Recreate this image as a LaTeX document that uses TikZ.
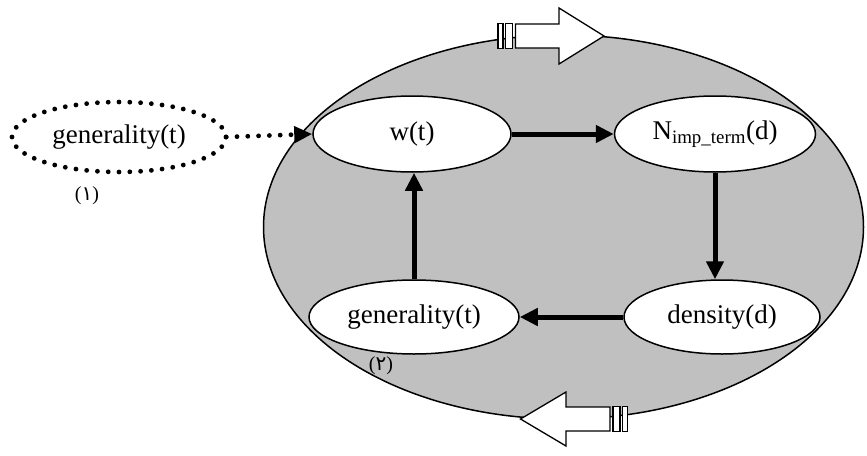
\documentclass[tikz,border=0pt]{standalone}
\usepackage{fontspec}
\setmainfont{Liberation Serif}
\newfontfamily\arabicfont[Script=Arabic]{DejaVu Sans}
\usetikzlibrary{arrows.meta,shapes.geometric}
\begin{document}
\begin{tikzpicture}[x=1pt,y=-1pt,
  lbl/.style={font=\fontsize{27}{32}\selectfont},
  elli/.style={ellipse, draw, line width=1.5pt, fill=white, inner sep=0pt, lbl},
  flow/.style={line width=5pt, -{Triangle[length=18pt,width=17pt]}},
  dots/.style={line width=4.8pt, line cap=round, dash pattern=on 0pt off 10.8pt},
  stripe/.style={draw, line width=1.3pt, fill=white, line join=miter},
  num/.style={font=\fontsize{20}{22}\selectfont, inner sep=0pt}]
\useasboundingbox (0,0) rectangle (867,455);
% big grey ellipse
\draw[line width=1.5pt, fill={rgb,255:red,192;green,192;blue,192}] (563.5,227) ellipse [x radius=300pt, y radius=192pt];
% top striped arrow
\draw[stripe] (498,23.5) rectangle (503,48.5);
\draw[stripe] (505.5,23.5) rectangle (512.5,48.5);
\draw[stripe] (515.5,24) -- (559,24) -- (559,8) -- (604,36) -- (559,64) -- (559,48) -- (515.5,48) -- cycle;
% bottom striped arrow
\draw[stripe] (622.5,406.5) rectangle (627.5,431.5);
\draw[stripe] (613,406.5) rectangle (620,431.5);
\draw[stripe] (610,407) -- (566,407) -- (566,392) -- (520.5,419) -- (566,446) -- (566,431) -- (610,431) -- cycle;
% nodes
\node[elli, minimum width=198pt, minimum height=76pt] (w) at (412,134) {w(t)};
\node[elli, minimum width=201pt, minimum height=76pt] (n) at (715,134) {N\textsubscript{imp\_term}(d)};
\node[elli, minimum width=196pt, minimum height=74pt] (d) at (722,317) {density(d)};
\node[elli, minimum width=210pt, minimum height=74pt] (g) at (414,317) {generality(t)};
\node[ellipse, inner sep=0pt, minimum width=214pt, minimum height=70pt, lbl] (og) at (119,137) {generality(t)};
\draw[dots] (og.center) ellipse [x radius=107pt, y radius=35pt];
% connectors
\draw[flow] (w.east) -- (n.west);
\draw[flow] (n.south) -- (n.south |- d.north);
\draw[flow] (d.west) -- (g.east);
\draw[flow] (g.north) -- (g.north |- w.south);
\draw[dots, -{Triangle[length=18pt,width=16pt]}] (og.east) -- (w.west);
% labels
\node[num] (l1) at (87,196) {(\arabicfont ۱\rmfamily)};
\node[num] (l2) at (381,366) {(\arabicfont ۲\rmfamily)};
\end{tikzpicture}
\end{document}
